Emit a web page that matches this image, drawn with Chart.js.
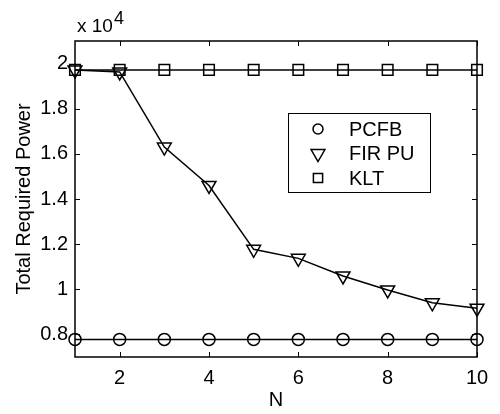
<!DOCTYPE html>
<html>
<head>
<meta charset="UTF-8">
<title>Total Required Power</title>
<script src="https://cdn.jsdelivr.net/npm/chart.js"></script>
<style>
  html, body { margin: 0; padding: 0; background: #fff; }
</style>
</head>
<body>
<canvas id="powerChart" width="500" height="414"></canvas>
<script>
// values (units of power, axis shows x 10^4)
const nValues = [1, 2, 3, 4, 5, 6, 7, 8, 9, 10];
const pcfbPower = [7780, 7780, 7780, 7780, 7780, 7780, 7780, 7780, 7780, 7780];
const firPuPower = [19720, 19630, 16300, 14600, 11770, 11370, 10590, 9970, 9400, 9160];
const kltPower = [19720, 19720, 19720, 19720, 19720, 19720, 19720, 19720, 19720, 19720];
const xTicks = [2, 4, 6, 8, 10];
const yTicks = [8000, 10000, 12000, 14000, 16000, 18000, 20000];

const FONT = 'Liberation Sans, Arial, Helvetica, sans-serif';

function toPoints(ys) {
    return nValues.map((n, i) => ({ x: n, y: ys[i] }));
}

const markerStyles = [
    { pointStyle: 'circle', radius: 6, rotation: 0 },
    { pointStyle: 'triangle', radius: 8, rotation: 180 },
    { pointStyle: 'rect', radius: 7.5, rotation: 0 }
];

// frame, inward ticks (matlab look), exponent label and boxed legend
const matlabAxes = {
    id: 'matlabAxes',
    afterDraw(chart) {
        const ctx = chart.ctx;
        const area = chart.chartArea;
        const xs = chart.scales.x, ys = chart.scales.y;
        ctx.save();
        ctx.strokeStyle = '#000';
        ctx.lineWidth = 1.5;
        ctx.strokeRect(area.left, area.top, area.right - area.left, area.bottom - area.top);

        ctx.lineWidth = 1;
        ctx.beginPath();
        xTicks.forEach(v => {
            const px = Math.round(xs.getPixelForValue(v)) + 0.5;
            ctx.moveTo(px, area.bottom); ctx.lineTo(px, area.bottom - 5);
            ctx.moveTo(px, area.top); ctx.lineTo(px, area.top + 5);
        });
        yTicks.forEach(v => {
            const py = Math.round(ys.getPixelForValue(v)) + 0.5;
            ctx.moveTo(area.left, py); ctx.lineTo(area.left + 5, py);
            ctx.moveTo(area.right, py); ctx.lineTo(area.right - 5, py);
        });
        ctx.stroke();

        // x 10^4
        ctx.fillStyle = '#000';
        ctx.textBaseline = 'alphabetic';
        ctx.textAlign = 'left';
        ctx.font = '19px ' + FONT;
        ctx.fillText('x 10', area.left + 2, 32);
        const w = ctx.measureText('x 10').width;
        ctx.font = '18px ' + FONT;
        ctx.fillText('4', area.left + 3 + w, 24);

        // legend box
        const lx = 288, ly = 113, lw = 142, lh = 79;
        ctx.fillStyle = '#fff';
        ctx.fillRect(lx, ly, lw, lh);
        ctx.lineWidth = 1;
        ctx.strokeRect(lx + 0.5, ly + 0.5, lw, lh);
        ctx.font = '20px ' + FONT;
        ctx.textBaseline = 'middle';
        chart.data.datasets.forEach((ds, i) => {
            const y = 129 + i * 24.5;
            ctx.strokeStyle = '#000';
            ctx.fillStyle = 'rgba(0,0,0,0)';
            ctx.lineWidth = 1.5;
            Chart.helpers.drawPoint(ctx, {
                pointStyle: markerStyles[i].pointStyle,
                radius: markerStyles[i].radius - (i === 1 ? 0 : 1),
                rotation: markerStyles[i].rotation,
                borderWidth: 1.5
            }, 318, y);
            ctx.fillStyle = '#000';
            ctx.fillText(ds.label, 349, y + 1);
        });
        ctx.restore();
    }
};

function makeDataset(label, values, i) {
    return {
        label: label,
        data: toPoints(values),
        borderColor: '#000',
        borderWidth: 1.5,
        backgroundColor: 'rgba(0,0,0,0)',
        pointStyle: markerStyles[i].pointStyle,
        pointRadius: markerStyles[i].radius,
        pointRotation: markerStyles[i].rotation,
        pointBorderColor: '#000',
        pointBorderWidth: 1.5,
        pointBackgroundColor: 'rgba(0,0,0,0)',
        tension: 0,
        clip: false
    };
}

new Chart(document.getElementById('powerChart'), {
    type: 'line',
    data: {
        datasets: [
            makeDataset('PCFB', pcfbPower, 0),
            makeDataset('FIR PU', firPuPower, 1),
            makeDataset('KLT', kltPower, 2)
        ]
    },
    options: {
        responsive: false,
        animation: false,
        layout: { padding: { top: 41, right: 23, left: 0, bottom: 0 } },
        plugins: {
            legend: { display: false },
            tooltip: { enabled: false }
        },
        scales: {
            x: {
                type: 'linear',
                min: 1,
                max: 10,
                afterBuildTicks: s => { s.ticks = xTicks.map(v => ({ value: v })); },
                afterFit: s => { s.height = 57; },
                grid: { display: false, drawTicks: false },
                border: { display: false },
                ticks: {
                    color: '#000',
                    padding: 9,
                    maxRotation: 0,
                    font: { family: FONT, size: 20 }
                },
                title: {
                    display: true,
                    text: 'N',
                    color: '#000',
                    padding: { top: 0, bottom: 2 },
                    font: { family: FONT, size: 20 }
                }
            },
            y: {
                type: 'linear',
                min: 7000,
                max: 21000,
                afterBuildTicks: s => { s.ticks = yTicks.map(v => ({ value: v })); },
                afterFit: s => { s.width = 75; },
                grid: { display: false, drawTicks: false },
                border: { display: false },
                ticks: {
                    color: '#000',
                    padding: 7,
                    font: { family: FONT, size: 20 },
                    callback: v => String(+(v / 1e4).toFixed(1))
                },
                title: {
                    display: true,
                    text: 'Total Required Power',
                    color: '#000',
                    padding: { top: 12, bottom: 0 },
                    font: { family: FONT, size: 20 }
                }
            }
        }
    },
    plugins: [matlabAxes]
});
</script>
</body>
</html>
